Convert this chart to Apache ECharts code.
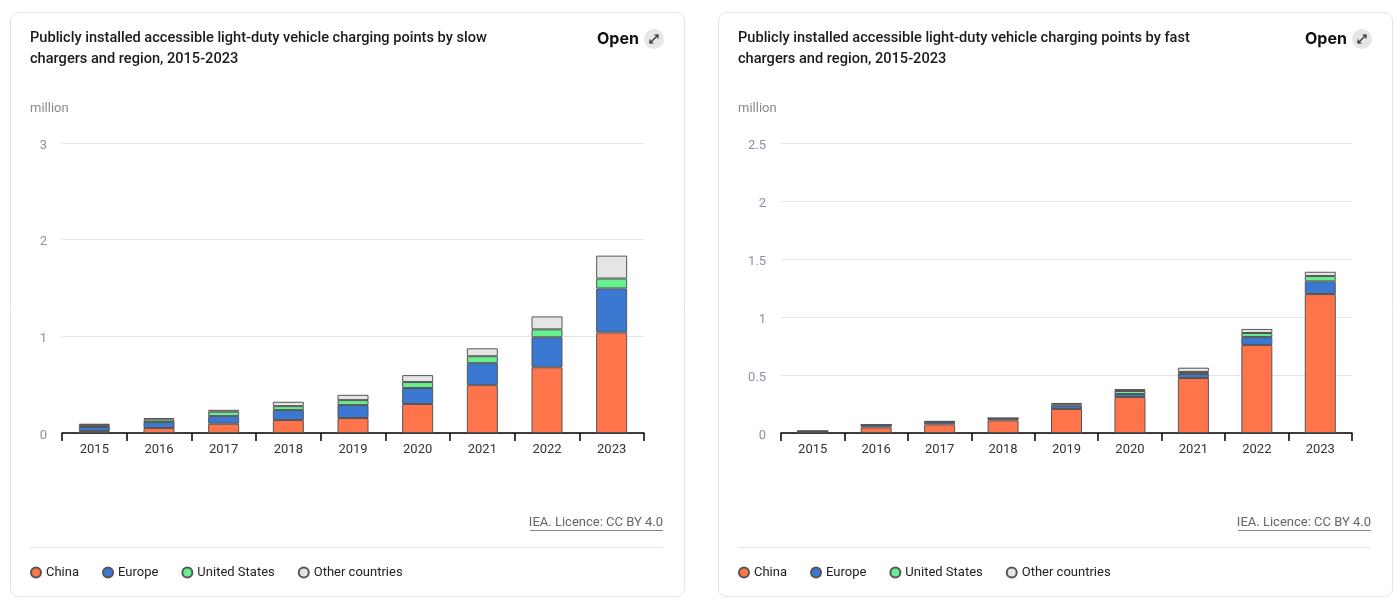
<!DOCTYPE html>
<html><head><meta charset="utf-8">
<script src="https://cdn.jsdelivr.net/npm/echarts@6/dist/echarts.min.js"></script>
<style>html,body{margin:0;padding:0;background:#fff}#c{width:1400px;height:601px}</style>
</head><body><div id="c"></div>
<script>
const years = ['2015','2016','2017','2018','2019','2020','2021','2022','2023'];
const regions = ['China','Europe','United States','Other countries'];
const colors = ['#ff744b','#3b78d2','#66f090','#e5e5e5'];
// Slow chargers (million)
const slowChina  = [0.020,0.052,0.096,0.134,0.155,0.300,0.495,0.680,1.040];
const slowEurope = [0.042,0.061,0.079,0.103,0.134,0.165,0.227,0.310,0.455];
const slowUS     = [0.020,0.027,0.045,0.041,0.051,0.062,0.072,0.082,0.103];
const slowOther  = [0.014,0.015,0.020,0.045,0.055,0.072,0.082,0.134,0.237];
// Fast chargers (million)
const fastChina  = [0.010,0.048,0.074,0.109,0.207,0.310,0.474,0.759,1.198];
const fastEurope = [0.005,0.020,0.020,0.015,0.028,0.026,0.035,0.069,0.109];
const fastUS     = [0.001,0.002,0.003,0.003,0.012,0.026,0.017,0.034,0.046];
const fastOther  = [0.001,0.002,0.006,0.002,0.012,0.017,0.037,0.035,0.037];
const slowTicks = [0,1,2,3];
const fastTicks = [0,0.5,1,1.5,2,2.5];

const FONT = 'Roboto';
const chart = echarts.init(document.getElementById('c'));
function xAxis(gi){return {type:'category',gridIndex:gi,data:years,
  axisLine:{lineStyle:{color:'#000',width:1.5}},
  axisTick:{show:true,length:8,interval:0,lineStyle:{color:'#000',width:1.5}},
  axisLabel:{color:'#333',fontSize:13,fontFamily:FONT,margin:10}};}
function yAxis(gi,ticks){return {type:'value',gridIndex:gi,min:ticks[0],max:ticks[ticks.length-1],
  interval:ticks[1]-ticks[0],axisLine:{show:false},axisTick:{show:false},
  splitLine:{lineStyle:{color:'#e6e6e6'}},
  axisLabel:{color:'#8a90a6',fontSize:13,fontFamily:FONT,margin:15,verticalAlign:'top',padding:[-4,0,0,0]}};}
const slowData=[slowChina,slowEurope,slowUS,slowOther];
const fastData=[fastChina,fastEurope,fastUS,fastOther];
const series=[];
[slowData,fastData].forEach((set,gi)=>{
  set.forEach((d,i)=>series.push({name:regions[i],type:'bar',stack:'s'+gi,xAxisIndex:gi,yAxisIndex:gi,
    data:d,barWidth:31,itemStyle:{color:colors[i],borderColor:'#555',borderWidth:1},
    emphasis:{disabled:true}}));
});
function card(off){
  const g=[];
  g.push({type:'rect',shape:{x:10.5+off,y:12.5,width:674,height:584,r:8},style:{fill:'#fff',stroke:'#e2e2e2',lineWidth:1},z:-10});
  g.push({type:'text',x:597+off,y:39,style:{text:'Open',font:'bold 16px Inter',fill:'#111',textVerticalAlign:'middle'}});
  g.push({type:'circle',shape:{cx:654+off,cy:39,r:10},style:{fill:'#e6e6e6'}});
  g.push({type:'polyline',shape:{points:[[650+off,43],[658+off,35]]},style:{stroke:'#222',lineWidth:1.1}});
  g.push({type:'polyline',shape:{points:[[654.5+off,35],[658+off,35],[658+off,38.5]]},style:{stroke:'#222',lineWidth:1.1,fill:null}});
  g.push({type:'polyline',shape:{points:[[650+off,39.5],[650+off,43],[653.5+off,43]]},style:{stroke:'#222',lineWidth:1.1,fill:null}});
  g.push({type:'text',x:30+off,y:109,style:{text:'million',font:'13px '+FONT,fill:'#8a8a8a',textVerticalAlign:'middle'}});
  g.push({type:'text',x:663+off,y:523,style:{text:'IEA. Licence: CC BY 4.0',font:'13px '+FONT,fill:'#666',textAlign:'right',textVerticalAlign:'middle'}});
  g.push({type:'line',shape:{x1:530+off,y1:530.5,x2:663+off,y2:530.5},style:{stroke:'#888',lineWidth:1}});
  g.push({type:'line',shape:{x1:30+off,y1:547.5,x2:663+off,y2:547.5},style:{stroke:'#e6e6e6',lineWidth:1}});
  return g;
}
const titleStyle={fontSize:14.6,fontWeight:500,color:'#1a1a1a',fontFamily:FONT,lineHeight:21};
const legendBase={icon:'circle',itemWidth:10,itemHeight:10,itemGap:23,top:566,padding:0,
  textStyle:{fontSize:13,color:'#222',fontFamily:FONT},selectedMode:false,data:regions};
chart.setOption({
  animation:false,
  title:[
    {text:'Publicly installed accessible light-duty vehicle charging points by slow\nchargers and region, 2015-2023',left:30,top:28,padding:0,textStyle:titleStyle},
    {text:'Publicly installed accessible light-duty vehicle charging points by fast\nchargers and region, 2015-2023',left:738,top:28,padding:0,textStyle:titleStyle}
  ],
  legend:[Object.assign({left:30},legendBase),Object.assign({left:738},legendBase)],
  grid:[{left:62,width:582,top:143,height:290},{left:781,width:571,top:143,height:290}],
  xAxis:[xAxis(0),xAxis(1)],
  yAxis:[yAxis(0,slowTicks),yAxis(1,fastTicks)],
  series:series,
  graphic:card(0).concat(card(708))
});
</script></body></html>
